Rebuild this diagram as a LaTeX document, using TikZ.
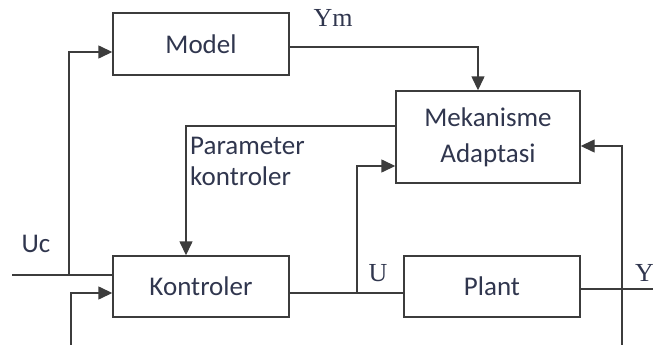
\documentclass[tikz,border=0pt]{standalone}
\usepackage{fontspec}
\setmainfont{Carlito}
\newfontfamily\labelserif{Liberation Serif}
\usetikzlibrary{arrows.meta,calc}
\definecolor{inkline}{RGB}{60,60,60}
\definecolor{inktext}{RGB}{48,54,78}
\begin{document}
\begin{tikzpicture}[x=1pt,y=-1pt,
  block/.style={draw=inkline,line width=1.4pt,rectangle,inner sep=0pt,
    text=inktext,font=\fontsize{27}{33}\selectfont,align=center},
  wire/.style={draw=inkline,line width=1.4pt},
  arr/.style={wire,-{Triangle[length=14pt,width=13pt]}},
  sig/.style={text=inktext,font=\labelserif\fontsize{26}{30}\selectfont,inner sep=0pt},
  sigsans/.style={text=inktext,font=\fontsize{27}{31}\selectfont,inner sep=0pt}]
\useasboundingbox (0,0) rectangle (653,345);

% blocks
\node[block,minimum width=176pt,minimum height=62pt] (model) at (201,44) {Model};
\node[block,minimum width=184pt,minimum height=92pt] (mek) at (488,137)
  {Mekanisme\\[3pt]Adaptasi};
\node[block,minimum width=176pt,minimum height=61pt] (kon) at (201,286.5) {Kontroler};
\node[block,minimum width=176pt,minimum height=61pt] (plant) at (492,286.5) {Plant};

% free ends and branch points
\coordinate (ucin) at (12,275);
\coordinate (ucj) at (69,275);
\coordinate (kbot) at (71,345);
\coordinate (uj) at (357,293);
\coordinate (yout) at (653,289);
\coordinate (ybot) at (622,345);

% reference input Uc
\draw[wire] (ucin) -- (ucin -| kon.west);
\draw[arr] (ucj) |- ([yshift=-8pt]model.west);

% model output Ym
\draw[arr] ([yshift=-3pt]model.east) -| ([xshift=-10pt]mek.north);

% controller parameters
\draw[arr] ([yshift=11pt]mek.west) -| ([xshift=-15pt]kon.north);

% control signal U
\draw[wire] ([yshift=-6.5pt]kon.east) -- (uj) -- (uj -| plant.west);
\draw[arr] (uj) |- ([yshift=-29pt]mek.west);

% plant output Y and feedback
\draw[wire] ([yshift=-2.5pt]plant.east) -- (yout);
\draw[arr] (ybot) |- ([yshift=-9pt]mek.east);
\draw[arr] (kbot) |- ([yshift=-6.5pt]kon.west);

% signal labels
\node[sig] (lym) at (333,18) {Ym};
\node[sigsans] (luc) at (36,244) {Uc};
\node[sig] (lu) at (378,273) {U};
\node[sig,anchor=west] (ly) at (635,273) {Y};
\node[sigsans,anchor=west,align=left] (lpar) at (190,161)
  {Parameter\\kontroler};
\end{tikzpicture}
\end{document}
